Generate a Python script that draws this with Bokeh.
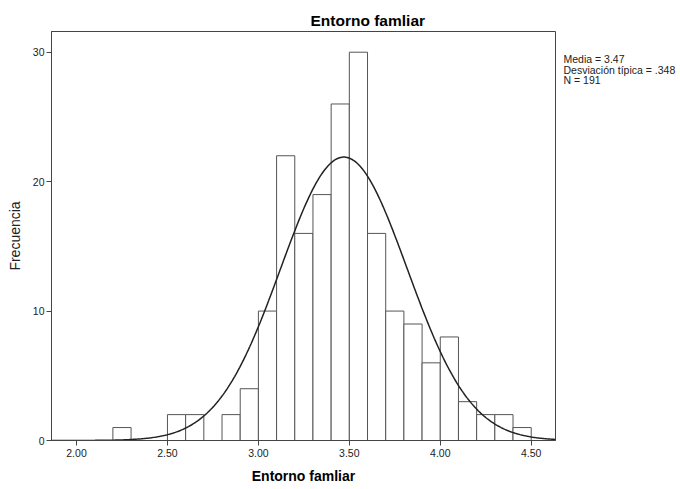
import numpy as np
from bokeh.plotting import figure
from bokeh.models import FixedTicker, ColumnDataSource, LinearAxis
from bokeh.embed import file_html
from bokeh.resources import INLINE

# ---- data ----
bin_lefts = [2.2, 2.3, 2.4, 2.5, 2.6, 2.7, 2.8, 2.9, 3.0, 3.1, 3.2, 3.3,
             3.4, 3.5, 3.6, 3.7, 3.8, 3.9, 4.0, 4.1, 4.2, 4.3, 4.4]
counts = [1, 0, 0, 2, 2, 0, 2, 4, 10, 22, 16, 19,
          26, 30, 16, 10, 9, 6, 8, 3, 2, 2, 1]
bin_width = 0.1
mean_val = 3.47
sd_val = 0.348
n_val = 191
x_ticks = [2.0, 2.5, 3.0, 3.5, 4.0, 4.5]
x_tick_labels = ["2.00", "2.50", "3.00", "3.50", "4.00", "4.50"]
y_ticks = [0, 10, 20, 30]
title_text = "Entorno famliar"
x_label_text = "Entorno famliar"
y_label_text = "Frecuencia"
stats_lines = ["Media = 3.47", "Desviación típica = .348", "N = 191"]

FONT = "Liberation Sans"
AXIS_COLOR = "#444444"
X0, X1 = 1.8625, 4.6335
Y0, Y1 = 0.0, 31.6
W, H = 680, 489
FRAME_TOP, FRAME_BOTTOM = 31, 440

p = figure(width=W, height=H, x_range=(X0, X1), y_range=(Y0, Y1),
           output_backend="svg", toolbar_location=None,
           min_border_left=51, min_border_right=W - 555,
           min_border_top=FRAME_TOP, min_border_bottom=H - FRAME_BOTTOM)
p.grid.visible = False
p.outline_line_color = AXIS_COLOR
p.outline_line_width = 1
p.background_fill_color = "white"
p.border_fill_color = "white"

# title
p.title.text = title_text
p.title.align = "left"
p.title.offset = 259
p.title.text_font = FONT
p.title.text_font_size = "15.5px"
p.title.text_font_style = "bold"
p.title.text_color = "black"
p.title.standoff = 5

for ax in (p.xaxis[0], p.yaxis[0]):
    ax.axis_line_color = AXIS_COLOR
    ax.major_tick_line_color = AXIS_COLOR
    ax.major_tick_out = 5
    ax.major_tick_in = 0
    ax.minor_tick_line_color = None
    ax.major_label_text_font = FONT
    ax.major_label_text_font_size = "10.5px"
    ax.major_label_text_color = "#222222"
    ax.major_label_standoff = 3
    ax.axis_label_text_font = FONT
    ax.axis_label_text_font_size = "14px"

p.xaxis.ticker = FixedTicker(ticks=x_ticks)
p.xaxis.major_label_overrides = {t: l for t, l in zip(x_ticks, x_tick_labels)}
p.yaxis.ticker = FixedTicker(ticks=y_ticks)
p.yaxis.major_label_standoff = 2

p.xaxis.axis_label = x_label_text
p.xaxis.axis_label_text_font_style = "bold"
p.xaxis.axis_label_text_color = "black"
p.xaxis.axis_label_standoff = 8
p.yaxis.axis_label = y_label_text
p.yaxis.axis_label_text_font_style = "normal"
p.yaxis.axis_label_text_color = "#222222"
p.yaxis.axis_label_standoff = 7

# statistics text: a bare right-side axis whose tick labels carry the lines
line_px = 10.0
px_per_unit = (FRAME_BOTTOM - FRAME_TOP) / (Y1 - Y0)
stat_pos = [round(Y1 - (28 + line_px * i) / px_per_unit, 3) for i in range(len(stats_lines))]
stats_axis = LinearAxis(ticker=FixedTicker(ticks=stat_pos),
                        major_label_overrides={t: s for t, s in zip(stat_pos, stats_lines)},
                        axis_line_color=None, major_tick_line_color=None,
                        minor_tick_line_color=None, major_tick_out=0, major_tick_in=0,
                        major_label_standoff=8, major_label_text_font=FONT,
                        major_label_text_font_size="10.5px",
                        major_label_text_color="#222222")
p.add_layout(stats_axis, "right")

# bars
src = ColumnDataSource(dict(
    left=bin_lefts,
    right=[b + bin_width for b in bin_lefts],
    top=counts,
    bottom=[0] * len(counts),
))
p.quad(left="left", right="right", top="top", bottom="bottom", source=src,
       fill_color="white", line_color="#555555", line_width=1)

# fitted normal curve from the stated mean, SD and N
xs = np.linspace(X0, X1, 400)
ys = n_val * bin_width * np.exp(-0.5 * ((xs - mean_val) / sd_val) ** 2) / (sd_val * np.sqrt(2 * np.pi))
p.line(xs, ys, line_color="#222222", line_width=1.5)

open("out.html", "w").write(file_html(p, INLINE))
